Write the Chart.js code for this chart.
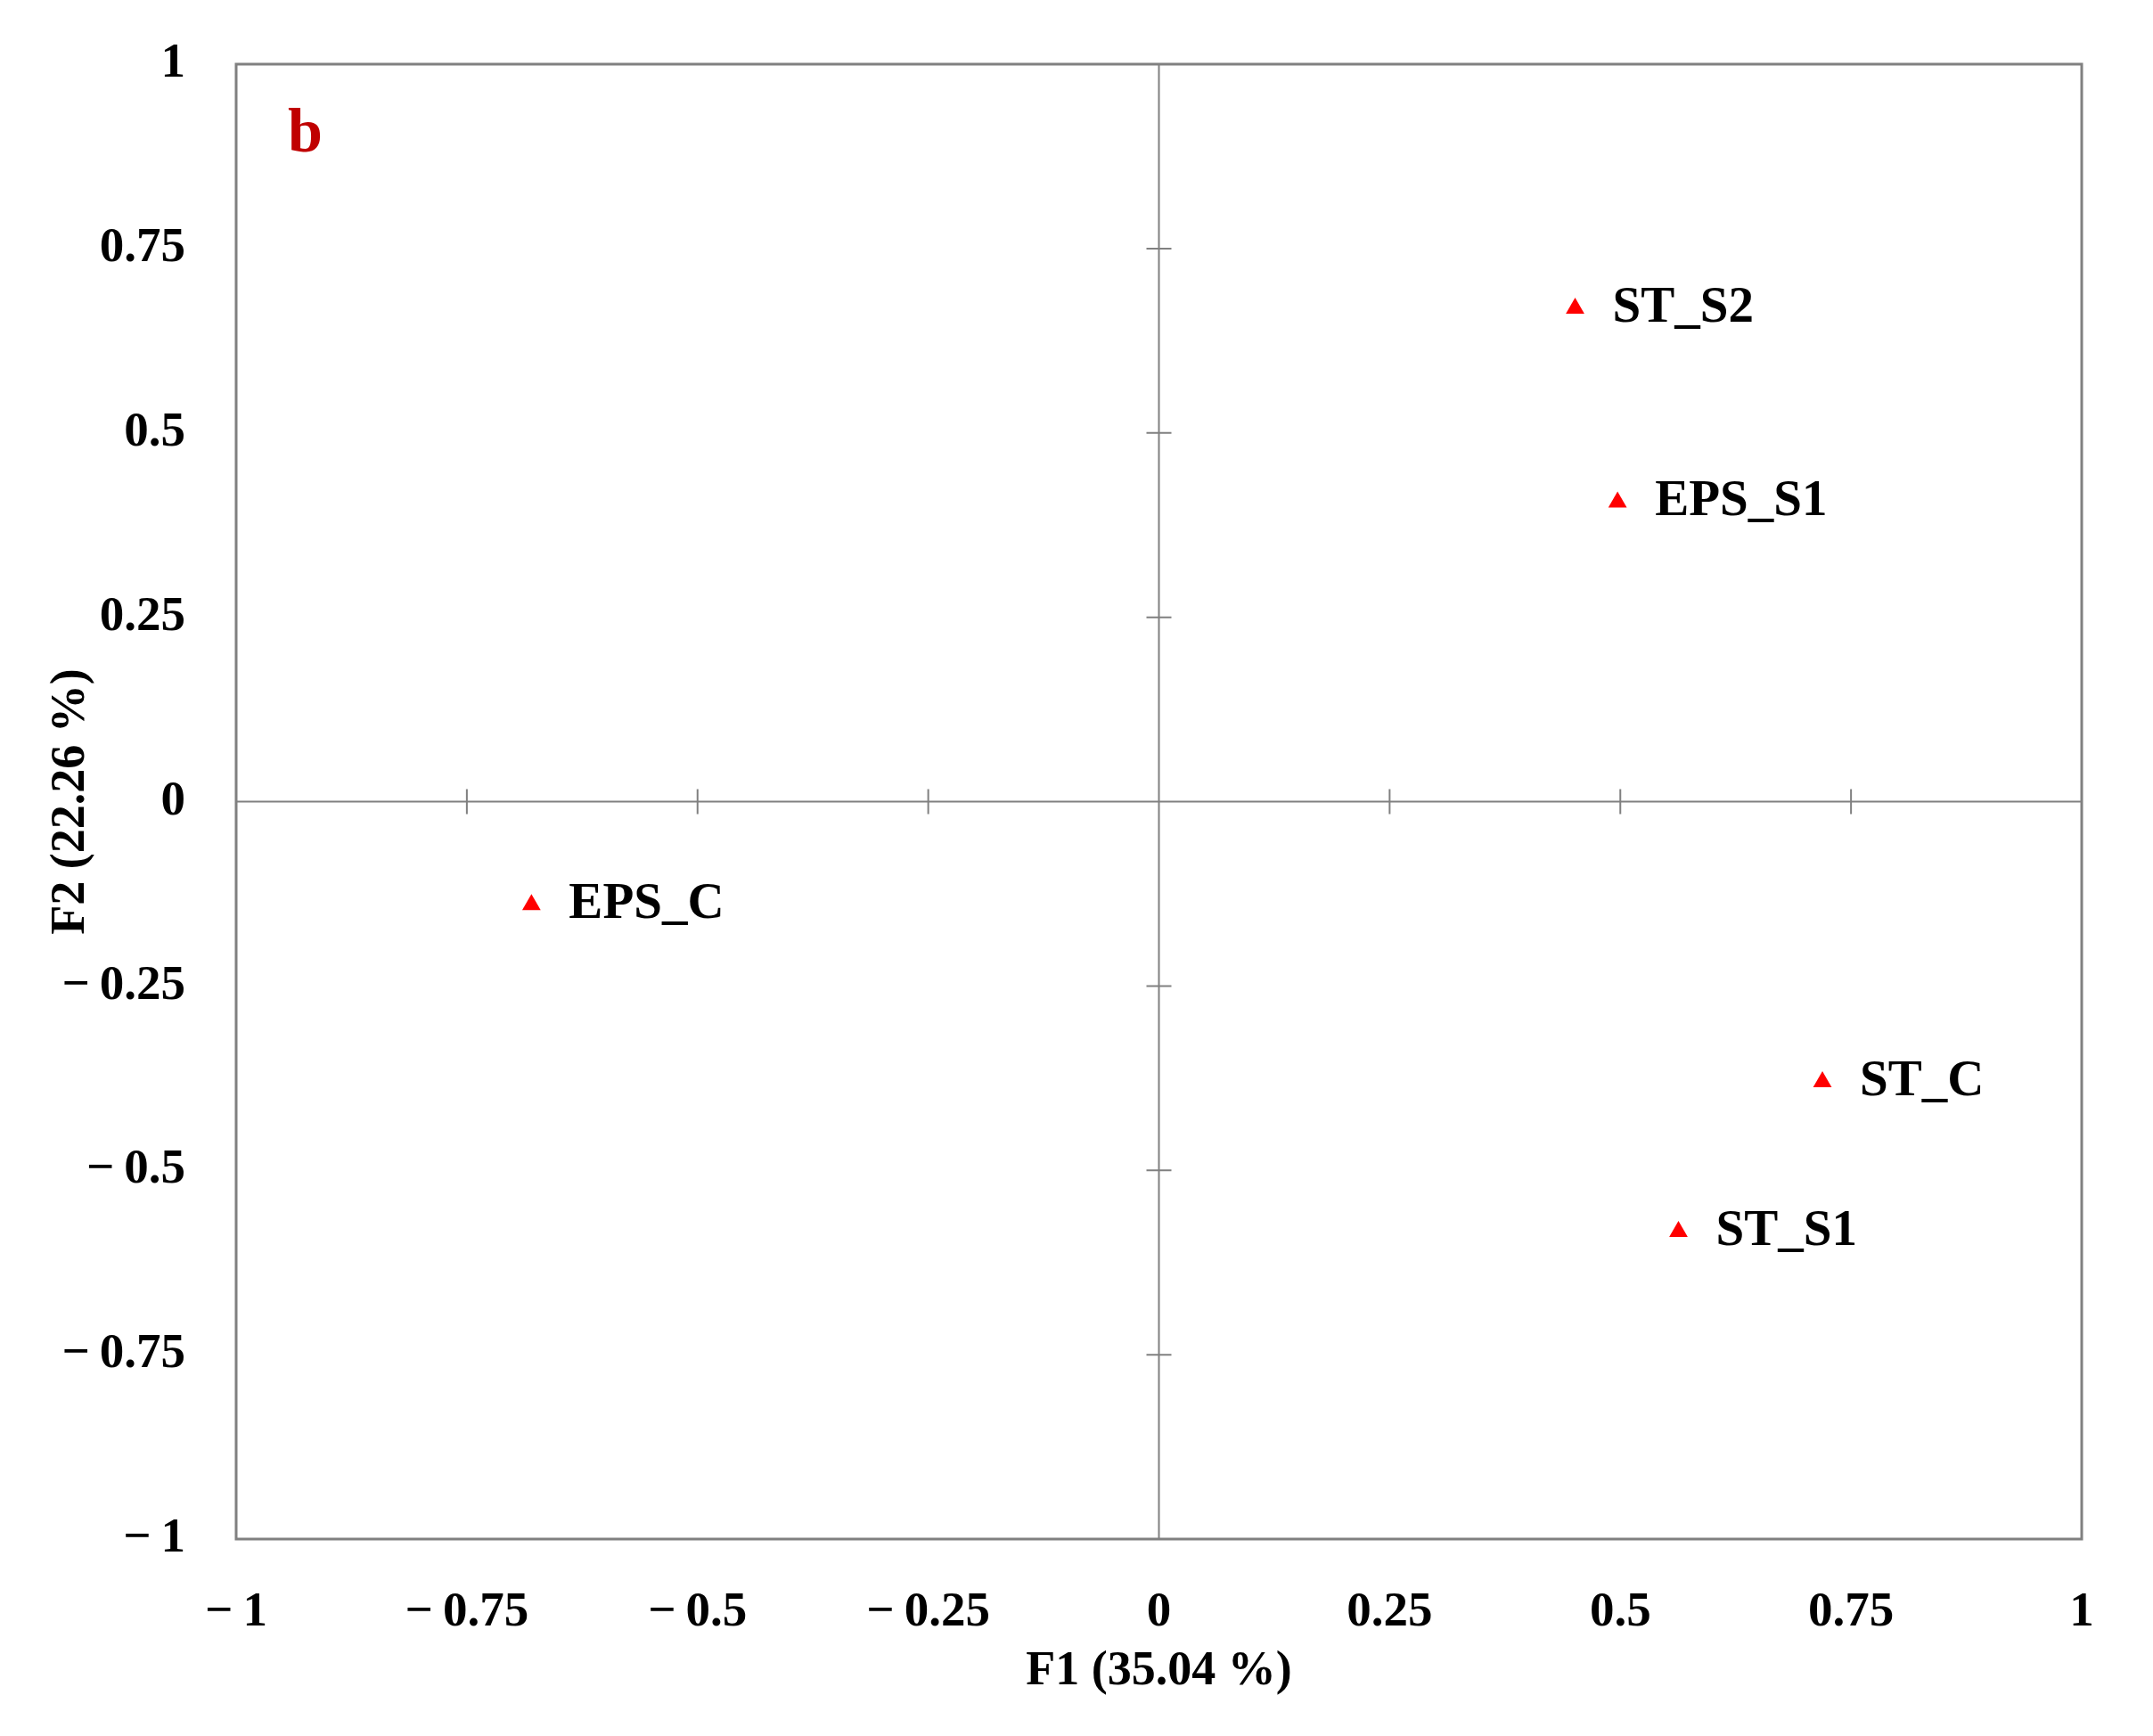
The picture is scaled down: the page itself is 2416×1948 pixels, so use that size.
<!DOCTYPE html>
<html>
<head>
<meta charset="utf-8">
<script src="https://cdn.jsdelivr.net/npm/chart.js@4/dist/chart.umd.min.js"></script>
<style>
html,body{margin:0;padding:0;background:#fff;}
#wrap{width:2416px;height:1948px;position:relative;}
</style>
</head>
<body>
<div id="wrap"><canvas id="c" width="2416" height="1948"></canvas></div>
<script>
const pointNames = ["ST_S2", "EPS_S1", "EPS_C", "ST_C", "ST_S1"];
const f1Values = [0.451, 0.497, -0.680, 0.719, 0.563];
const f2Values = [0.669, 0.406, -0.140, -0.380, -0.583];
const tickValues = [-1, -0.75, -0.5, -0.25, 0, 0.25, 0.5, 0.75, 1];
const tickLabels = ["\u2212\u20091", "\u2212\u20090.75", "\u2212\u20090.5", "\u2212\u20090.25", "0", "0.25", "0.5", "0.75", "1"];
const xTitle = "F1 (35.04 %)";
const yTitle = "F2 (22.26 %)";
const panelLabel = "b";

const FONT = "'Liberation Serif', 'DejaVu Serif', serif";
const GRAY = "#808080";

function tickText(v){
  const i = tickValues.findIndex(t => Math.abs(t - v) < 1e-9);
  return i >= 0 ? tickLabels[i] : "";
}

const framePlugin = {
  id: "frame",
  beforeDatasetsDraw(chart){
    const {ctx, chartArea: a, scales} = chart;
    const x0 = scales.x.getPixelForValue(0);
    const y0 = scales.y.getPixelForValue(0);
    ctx.save();
    ctx.strokeStyle = GRAY;
    ctx.lineWidth = 3;
    ctx.strokeRect(a.left, a.top, a.right - a.left, a.bottom - a.top);
    ctx.lineWidth = 2;
    ctx.beginPath();
    ctx.moveTo(x0, a.top); ctx.lineTo(x0, a.bottom);
    ctx.moveTo(a.left, y0); ctx.lineTo(a.right, y0);
    const tl = 14;
    tickValues.forEach(v => {
      if (v === 0 || Math.abs(v) === 1) return;
      const px = scales.x.getPixelForValue(v);
      ctx.moveTo(px, y0 - tl); ctx.lineTo(px, y0 + tl);
      const py = scales.y.getPixelForValue(v);
      ctx.moveTo(x0 - tl, py); ctx.lineTo(x0 + tl, py);
    });
    ctx.stroke();
    ctx.restore();
  },
  afterDatasetsDraw(chart){
    const {ctx, chartArea: a} = chart;
    const meta = chart.getDatasetMeta(0);
    ctx.save();
    ctx.fillStyle = "#000";
    ctx.font = "bold 57px " + FONT;
    ctx.textAlign = "left";
    ctx.textBaseline = "middle";
    meta.data.forEach((pt, i) => {
      ctx.fillText(pointNames[i], pt.x + 42, pt.y);
    });
    ctx.fillStyle = "#c00000";
    ctx.font = "bold 70px " + FONT;
    ctx.textBaseline = "alphabetic";
    ctx.fillText(panelLabel, a.left + 58, a.top + 98);
    ctx.restore();
  }
};

new Chart(document.getElementById("c"), {
  type: "scatter",
  data: {
    datasets: [{
      data: f1Values.map((x, i) => ({x: x, y: f2Values[i]})),
      pointStyle: "triangle",
      pointRadius: 12,
      backgroundColor: "#ff0000",
      borderColor: "#ff0000",
      borderWidth: 0
    }]
  },
  options: {
    responsive: false,
    animation: false,
    devicePixelRatio: 1,
    layout: {padding: {left: 0, top: 72, right: 80, bottom: 0}},
    plugins: {legend: {display: false}, tooltip: {enabled: false}},
    scales: {
      x: {
        type: "linear", min: -1, max: 1,
        afterBuildTicks(s){ s.ticks = tickValues.map(v => ({value: v})); },
        afterFit(s){ s.height = 221; s.paddingLeft = 0; s.paddingRight = 0; },
        grid: {display: false, drawTicks: false},
        border: {display: false},
        ticks: {
          callback: v => tickText(v),
          color: "#000",
          font: {family: FONT, size: 55, weight: "bold"},
          padding: 50, maxRotation: 0, autoSkip: false
        },
        title: {
          display: true, text: xTitle, color: "#000",
          font: {family: FONT, size: 54, weight: "bold"},
          padding: {top: 0, bottom: 40}
        }
      },
      y: {
        type: "linear", min: -1, max: 1,
        afterBuildTicks(s){ s.ticks = tickValues.map(v => ({value: v})); },
        afterFit(s){ s.width = 265; s.paddingTop = 0; s.paddingBottom = 0; },
        grid: {display: false, drawTicks: false},
        border: {display: false},
        ticks: {
          callback: v => tickText(v),
          color: "#000",
          font: {family: FONT, size: 55, weight: "bold"},
          padding: 57, autoSkip: false
        },
        title: {
          display: true, text: yTitle, color: "#000",
          font: {family: FONT, size: 54, weight: "bold"},
          padding: {top: 48, bottom: 0}
        }
      }
    }
  },
  plugins: [framePlugin]
});
</script>
</body>
</html>
